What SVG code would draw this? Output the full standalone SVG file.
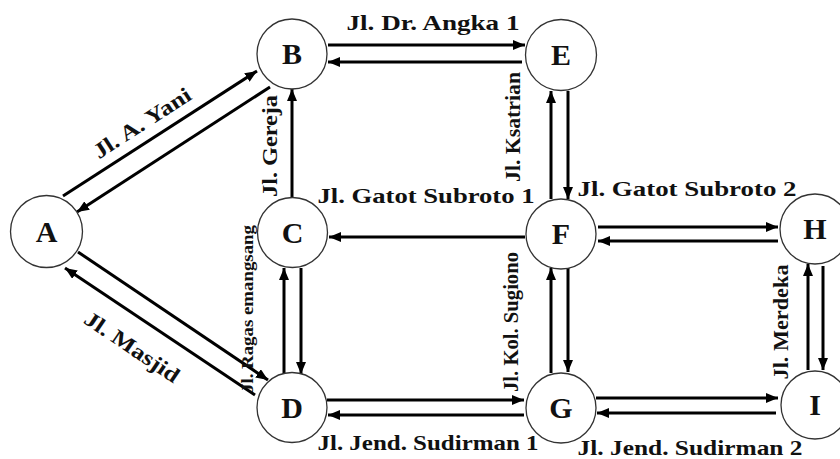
<svg xmlns="http://www.w3.org/2000/svg" width="840" height="459" viewBox="0 0 840 459">
<style>
.n circle{fill:#fff;stroke:#333;stroke-width:1.3}
.n text{font-family:"Liberation Serif","Times New Roman",serif;font-weight:bold;font-size:30px;fill:#111;text-anchor:middle}
.e line{stroke:#000;stroke-width:3;marker-end:url(#ah)}
.lbl{font-family:"Liberation Serif","Times New Roman",serif;font-weight:bold;font-size:21.5px;fill:#111;text-anchor:middle}
</style>
<defs>
<marker id="ah" viewBox="0 0 12 10" refX="12" refY="5" markerWidth="12" markerHeight="10" markerUnits="userSpaceOnUse" orient="auto">
<path d="M0,0 L12,5 L0,10 z" fill="#000"/>
</marker>
</defs>
<rect width="840" height="459" fill="#fff"/>
<g id="connectors" class="e">
<line x1="63" y1="196" x2="257" y2="71"/>
<line x1="270" y1="87" x2="77" y2="212"/>
<line x1="328" y1="45" x2="525" y2="45"/>
<line x1="522" y1="62" x2="328" y2="62"/>
<line x1="292" y1="198" x2="292" y2="89"/>
<line x1="568" y1="91" x2="568" y2="199"/>
<line x1="551" y1="199" x2="551" y2="91"/>
<line x1="525" y1="237" x2="329" y2="237"/>
<line x1="598" y1="227" x2="778" y2="227"/>
<line x1="778" y1="241" x2="598" y2="241"/>
<line x1="823" y1="266" x2="823" y2="370"/>
<line x1="808" y1="370" x2="808" y2="264"/>
<line x1="568" y1="268" x2="568" y2="372"/>
<line x1="551" y1="373" x2="551" y2="268"/>
<line x1="596" y1="398" x2="778" y2="398"/>
<line x1="776" y1="413" x2="597" y2="413"/>
<line x1="327" y1="400" x2="524" y2="400"/>
<line x1="524" y1="415" x2="328" y2="415"/>
<line x1="284" y1="374" x2="284" y2="268"/>
<line x1="301" y1="268" x2="301" y2="374"/>
<line x1="78" y1="252" x2="268" y2="380"/>
<line x1="255" y1="395" x2="65" y2="268"/>
</g>
<g id="labels">
<text class="lbl" transform="translate(146,129) rotate(-33)" textLength="112" lengthAdjust="spacingAndGlyphs">Jl. A. Yani</text>
<text class="lbl" x="433" y="30" textLength="173" lengthAdjust="spacingAndGlyphs">Jl. Dr. Angka 1</text>
<text class="lbl" transform="translate(277,146) rotate(-90)" textLength="102" lengthAdjust="spacingAndGlyphs">Jl. Gereja</text>
<text class="lbl" transform="translate(520,127) rotate(-90)" textLength="110" lengthAdjust="spacingAndGlyphs">Jl. Ksatrian</text>
<text class="lbl" x="426" y="203" textLength="217" lengthAdjust="spacingAndGlyphs">Jl. Gatot Subroto 1</text>
<text class="lbl" x="687" y="196" textLength="219" lengthAdjust="spacingAndGlyphs">Jl. Gatot Subroto 2</text>
<text class="lbl" transform="translate(788,322) rotate(-90)" textLength="115" lengthAdjust="spacingAndGlyphs">Jl. Merdeka</text>
<text class="lbl" transform="translate(518,322) rotate(-90)" textLength="140" lengthAdjust="spacingAndGlyphs">Jl. Kol. Sugiono</text>
<text class="lbl" x="428" y="450" textLength="221" lengthAdjust="spacingAndGlyphs">Jl. Jend. Sudirman 1</text>
<text class="lbl" x="690" y="455" textLength="225" lengthAdjust="spacingAndGlyphs">Jl. Jend. Sudirman 2</text>
<text class="lbl" transform="translate(128,353) rotate(34)" textLength="110" lengthAdjust="spacingAndGlyphs">Jl. Masjid</text>
<text class="lbl" style="font-size:16px" transform="translate(253,309) rotate(-90)" textLength="168" lengthAdjust="spacingAndGlyphs">Jl. Ragas emangsang</text>
</g>
<g id="A" class="n"><circle cx="46.5" cy="231.5" r="36"/><text x="46.5" y="241.5">A</text></g>
<g id="B" class="n"><circle cx="292" cy="54" r="35"/><text x="292" y="64">B</text></g>
<g id="C" class="n"><circle cx="292.5" cy="232.5" r="35"/><text x="292.5" y="242.5">C</text></g>
<g id="D" class="n"><circle cx="292" cy="407.5" r="35"/><text x="292" y="417.5">D</text></g>
<g id="E" class="n"><circle cx="561" cy="55" r="35.5"/><text x="561" y="65">E</text></g>
<g id="F" class="n"><circle cx="561" cy="234" r="35"/><text x="561" y="244">F</text></g>
<g id="G" class="n"><circle cx="561" cy="408" r="35"/><text x="561" y="418">G</text></g>
<g id="H" class="n"><circle cx="815" cy="229" r="35"/><text x="815" y="239">H</text></g>
<g id="I" class="n"><circle cx="815" cy="405" r="34"/><text x="815" y="415">I</text></g>
</svg>
